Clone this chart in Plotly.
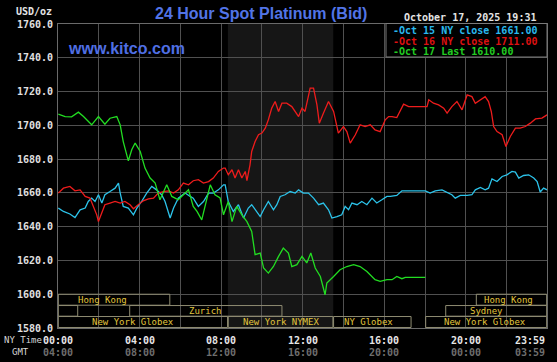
import plotly.graph_objects as go

# ---------------- data ----------------
# minutes after 00:00 NY time
t15 = [1,16,35,50,65,80,89,99,109,119,129,138,153,168,178,183,192,207,222,232,246,261,276,290,305,315,330,340,354,374,389,398,413,428,443,457,472,487,
       492,501,516,531,546,560,570,580,595,605,619,634,644,654,668,683,698,708,722,737,752,767,781,796,806,821,835,845,855,865,880,894,909,924,938,953,968,
       978,997,1012,1032,1061,1081,1095,1110,1130,1145,1159,1169,1184,1204,1218,1228,1243,1257,1267,1277,1292,1307,1321,1336,1346,1356,1370,1385,1400,1410,1419,1429,1439]
v15 = [1651,1649,1647.5,1645.4,1650,1651,1654.9,1656.9,1654.9,1658.9,1654,1658.9,1660.8,1662.8,1665.8,1659.9,1652,1651,1647,1651,1654.9,1659.9,1663.8,1661.8,1658.9,1654.9,1645.1,1651,1656.9,1659.9,1657.9,1656.9,1652,1654.9,1659.9,1659.9,1661.8,1664.8,
       1664.8,1654.9,1649,1653,1645.1,1651,1653,1650,1646,1650,1654.9,1650,1653,1657.9,1658.9,1660.8,1659.9,1661.8,1659.9,1659.9,1656.9,1653,1654,1650,1645.1,1646,1647,1652,1650,1654,1653,1654.9,1653,1656.9,1654,1655.9,1657.9,
       1657.9,1658.5,1661.2,1661.2,1661.2,1661.2,1659.9,1661.2,1661.8,1660.5,1658.9,1656.9,1658.5,1658.5,1658.9,1661.8,1663.2,1661.8,1662.8,1668.3,1666.7,1669.7,1670.7,1672.7,1672.3,1668.8,1670.3,1670.7,1668.8,1666.7,1660.5,1662.8,1661.8]

t16 = [1,16,35,50,65,80,94,104,114,119,129,138,153,168,183,197,212,222,236,251,266,281,295,310,325,340,354,369,384,398,413,428,443,457,472,487,
       492,501,512,521,531,541,551,556,565,570,580,590,600,610,619,629,639,649,659,673,688,708,718,727,742,752,762,769,781,796,811,825,840,850,860,875,889,904,919,933,948,963,973,
       983,997,1017,1032,1061,1086,1091,1105,1120,1135,1145,1159,1174,1189,1204,1218,1228,1243,1257,1267,1275,1282,1292,1307,1318,1331,1346,1360,1375,1390,1405,1424,1439]
v16 = [1659.9,1662.8,1663.8,1661.2,1661.8,1657.9,1656.9,1652,1647,1643,1648,1653,1654,1654.9,1654,1654.9,1653,1650.6,1653,1655.3,1656.5,1656.9,1659.9,1660.8,1661.2,1659.9,1661.8,1665.8,1664.8,1667.2,1667.8,1665.8,1666.7,1668.8,1672.7,1674.7,
       1674.7,1670.7,1673.7,1668.8,1673.7,1668.8,1672.7,1667.2,1676.6,1684.5,1690.4,1694.4,1695.4,1698.3,1703.3,1710.2,1714.1,1708.2,1713.1,1713.1,1711.1,1705.2,1710.2,1708.2,1722,1722,1712.1,1701.3,1707.2,1714.1,1708.2,1695.4,1699.3,1696.3,1689.5,1694.4,1700.3,1699.3,1700.3,1697.3,1696.3,1703.3,1705.2,
       1705.2,1704.6,1712.5,1711.1,1711.1,1711.1,1715.1,1713.1,1712.1,1710.2,1707.2,1711.1,1714.1,1709.2,1718,1717,1713.1,1715.1,1717,1714.1,1708.2,1699.3,1696.3,1694.4,1687.5,1693.4,1698.3,1698.3,1699.3,1701.3,1703.8,1704.3,1706.2]

t17 = [1,21,40,60,75,99,119,138,153,173,183,192,207,217,227,242,256,271,286,300,320,335,354,384,398,409,423,433,448,462,477,487,
       501,512,526,541,556,570,580,595,605,619,634,649,663,678,688,703,718,732,744,757,772,786,791,811,830,850,870,889,909,933,948,968,
       983,997,1012,1022,1081]
v17 = [1706.6,1705.2,1705,1707.8,1705.2,1700.3,1705.2,1700.7,1704.2,1705.2,1700.3,1690.4,1679,1685.5,1689.5,1684.5,1674.7,1668.8,1665.8,1655.9,1664.8,1657.9,1655.9,1661.8,1652,1649,1644,1653,1664.8,1658.9,1657,1647,
       1654.9,1643,1652,1647,1643,1637.2,1623.4,1624.4,1615.5,1612.5,1616.4,1622.4,1627.3,1624.4,1616.4,1617.5,1622.4,1618.5,1624.4,1615.5,1610.5,1599.7,1606.6,1610.5,1614.5,1616.4,1617.5,1616.4,1613.5,1608.6,1607.6,1608.6,
       1608.6,1610.5,1609.2,1610,1610]

series_names = ["Oct 15 NY close 1661.00", "Oct 16 NY close 1711.00", "Oct 17 Last 1610.00"]

y_ticks = [1580, 1600, 1620, 1640, 1660, 1680, 1700, 1720, 1740, 1760]
ny_tick_min = [0, 240, 480, 720, 960, 1200, 1439]
ny_tick_labels = ["00:00", "04:00", "08:00", "12:00", "16:00", "20:00", "23:59"]
gmt_tick_labels = ["04:00", "08:00", "12:00", "16:00", "20:00", "00:00", "03:59"]

# market sessions: name, start minute, end minute
sess_names = ["Hong Kong", "Hong Kong", "", "Zurich", "Sydney", "New York Globex", "New York NYMEX", "NY Globex", "New York Globex"]
sess_start = [0, 1230, 0, 210, 1140, 0, 500, 810, 1081]
sess_end = [330, 1439, 59, 660, 1439, 500, 810, 1040, 1439]
nymex_start, nymex_end = 500, 810

title_text = "24 Hour Spot Platinum (Bid)"
date_text = "October 17, 2025 19:31"

# ---------------- style / layout ----------------
W, H = 557, 362
L, R, T, B = 58, 10, 24, 34
PW, PH = W - L - R, H - T - B

def px(x):
    return (x - L) / PW

def py(y):
    return (H - B - y) / PH

colors = ["#2cc3ea", "#ee1c1c", "#22dd22"]
legend_colors = ["#2ab8ee", "#dd1111", "#22cc22"]
mono = "DejaVu Sans Mono"

fig = go.Figure()
for t, v, c, n in zip([t15, t16, t17], [v15, v16, v17], colors, series_names):
    fig.add_trace(go.Scatter(x=t, y=v, mode="lines", name=n,
                             line=dict(color=c, width=1.3), hoverinfo="skip"))

shapes = []
# NYMEX shading
shapes.append(dict(type="rect", xref="x", yref="paper", x0=nymex_start, x1=nymex_end, y0=0, y1=1,
                   fillcolor="#161616", line=dict(width=0), layer="below"))

# session rows (layout positions)
row_of = [0, 0, 1, 1, 1, 2, 2, 2, 2]
label_pos = [130, 1325, None, 433, 1260, 221, 657, 913, 1257]
row_edges = [(1593.5, 1600.0), (1587.0, 1593.3), (1580.3, 1586.8)]
annotations = []
for name, s, e, r, lp in zip(sess_names, sess_start, sess_end, row_of, label_pos):
    y0, y1 = row_edges[r]
    shapes.append(dict(type="rect", xref="x", yref="y", x0=s + 1, x1=e - 1, y0=y0, y1=y1,
                       line=dict(color="#8f8c72", width=1), fillcolor="rgba(0,0,0,0)", layer="above"))
    if name:
        annotations.append(dict(x=lp, y=(y0 + y1) / 2, xref="x", yref="y", text=name, showarrow=False,
                                font=dict(family=mono, size=9, color="#e2c63e"), xanchor="center", yanchor="middle"))

# legend box
shapes.append(dict(type="rect", xref="paper", yref="paper", x0=px(386), x1=px(547), y0=py(57), y1=py(23.5),
                   fillcolor="#000000", line=dict(color="#7a7a7a", width=1), layer="above"))
for i, (n, c) in enumerate(zip(series_names, legend_colors)):
    annotations.append(dict(x=px(391), y=py(30 + 11 * i), xref="paper", yref="paper", text="-" + n,
                            showarrow=False, xanchor="left", yanchor="middle",
                            font=dict(family=mono, size=10, color=c, weight="bold")))

# title / header texts
annotations.append(dict(x=px(260.5), y=py(14), xref="paper", yref="paper", text=title_text, showarrow=False,
                        xanchor="center", yanchor="middle",
                        font=dict(family="Liberation Sans", size=16, color="#5274e6", weight="bold")))
annotations.append(dict(x=px(126), y=py(48), xref="paper", yref="paper", text="www.kitco.com", showarrow=False,
                        xanchor="center", yanchor="middle",
                        font=dict(family="Liberation Sans", size=16, color="#4f6fe4", weight="bold")))
annotations.append(dict(x=px(469.5), y=py(17), xref="paper", yref="paper", text=date_text, showarrow=False,
                        xanchor="center", yanchor="middle",
                        font=dict(family=mono, size=10, color="#e4e4e4", weight="bold")))
annotations.append(dict(x=px(54), y=py(12), xref="paper", yref="paper", text="USD/oz", showarrow=False,
                        xanchor="right", yanchor="middle",
                        font=dict(family=mono, size=10, color="#e4e4e4", weight="bold")))

# x labels
annotations.append(dict(x=px(2), y=py(340), xref="paper", yref="paper", text="NY Time", showarrow=False,
                        xanchor="left", yanchor="middle", font=dict(family=mono, size=9, color="#d8d8d8")))
annotations.append(dict(x=px(10), y=py(352), xref="paper", yref="paper", text="GMT", showarrow=False,
                        xanchor="left", yanchor="middle", font=dict(family=mono, size=9, color="#d8d8d8")))
for i, (m, a, g) in enumerate(zip(ny_tick_min, ny_tick_labels, gmt_tick_labels)):
    anchor = "right" if i == len(ny_tick_min) - 1 else "center"
    annotations.append(dict(x=m, y=py(340), xref="x", yref="paper", text=a, showarrow=False,
                            xanchor=anchor, yanchor="middle",
                            font=dict(family=mono, size=10, color="#e6e6e6", weight="bold")))
    annotations.append(dict(x=m, y=py(352), xref="x", yref="paper", text=g, showarrow=False,
                            xanchor=anchor, yanchor="middle",
                            font=dict(family=mono, size=10, color="#6e6e6e", weight="bold")))

fig.update_layout(
    width=W, height=H,
    margin=dict(l=L, r=R, t=T, b=B, pad=0),
    paper_bgcolor="#000000", plot_bgcolor="#000000",
    showlegend=False,
    shapes=shapes, annotations=annotations,
    xaxis=dict(range=[0, 1439], tickvals=list(range(0, 1441, 120)), showticklabels=False,
               showgrid=True, gridcolor="#505050", gridwidth=1, zeroline=False,
               showline=True, linecolor="#6a6a6a", linewidth=1, mirror=True, ticks=""),
    yaxis=dict(range=[1580, 1760], tickvals=y_ticks, tickformat=".1f",
               showgrid=True, gridcolor="#505050", gridwidth=1, zeroline=False,
               showline=True, linecolor="#6a6a6a", linewidth=1, mirror=True, ticks="",
               ticklabelstandoff=2,
               tickfont=dict(family=mono, size=10, color="#e0e0e0", weight="bold")),
)

fig.write_html("out.html")
